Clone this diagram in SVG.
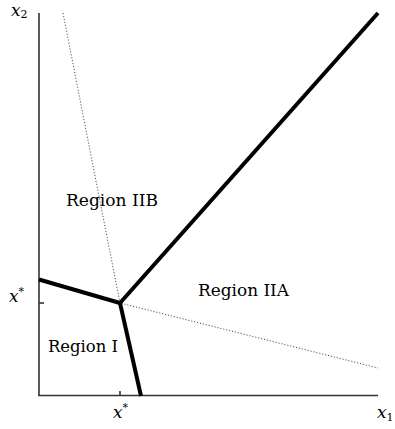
<svg xmlns="http://www.w3.org/2000/svg" width="395" height="429" viewBox="0 0 395 429">
<style>
.axis{stroke:#333;stroke-width:1.6;fill:none}
.thick{stroke:#000;stroke-width:4;fill:none;stroke-linecap:butt}
.dot{stroke:#555;stroke-width:1;stroke-dasharray:1.2 1.8;fill:none}
text{font-family:'DejaVu Serif','Liberation Serif',serif;fill:#000}
.lbl{font-size:16px}
.math{font-style:italic;font-size:17px}
.sub{font-size:11px;font-style:normal}
</style>
<rect width="395" height="429" fill="#fff"/>
<g id="axes">
<line class="axis" x1="39" y1="13" x2="39" y2="396"/>
<line class="axis" x1="38.2" y1="395.5" x2="378" y2="395.5"/>
<line class="axis" x1="120" y1="391" x2="120" y2="396"/>
<line class="axis" x1="39" y1="303" x2="44" y2="303"/>
</g>
<g id="curve">
<path class="dot" d="M63,13 L120,303 L378,368"/>
</g>
<g id="connectors">
<line class="thick" x1="39" y1="279.5" x2="120" y2="303"/>
<line class="thick" x1="120" y1="303" x2="378" y2="13"/>
<line class="thick" x1="120" y1="303" x2="141" y2="396"/>
</g>
<g id="labels">
<text class="lbl" x="66" y="206" textLength="92" lengthAdjust="spacingAndGlyphs">Region IIB</text>
<text class="lbl" x="198" y="296" textLength="91" lengthAdjust="spacingAndGlyphs">Region IIA</text>
<text class="lbl" x="48" y="352" textLength="70" lengthAdjust="spacingAndGlyphs">Region I</text>
<text class="math" x="11" y="16">x<tspan class="sub" dy="2">2</tspan></text>
<text class="math" x="9" y="302">x<tspan class="sub" dy="-7">*</tspan></text>
<text class="math" x="113" y="418">x<tspan class="sub" dy="-7">*</tspan></text>
<text class="math" x="377" y="418">x<tspan class="sub" dy="3">1</tspan></text>
</g>
</svg>
